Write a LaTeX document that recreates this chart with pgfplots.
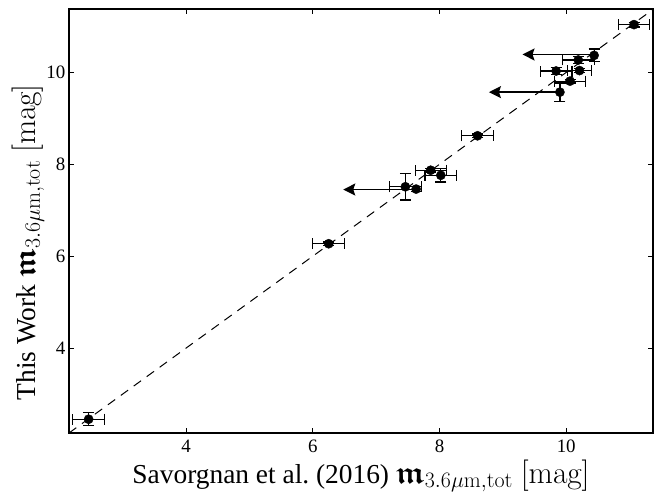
\RequirePackage{fix-cm}
\documentclass[border=0pt]{standalone}
\usepackage{amsmath,amsfonts,bm}
\usepackage[no-math]{fontspec}
\setmainfont{Liberation Serif}
\usepackage{pgfplots}
\usepackage{pgfplotstable}
\pgfplotsset{compat=1.18}
\usetikzlibrary{arrows.meta}

% Total 3.6 micron magnitudes: literature value (x) against this work (y)
\pgfplotstableread{
x     y     ex     ey
11.07 11.04 0.24   0.05
10.19 10.27 0.25   0.07
9.84  10.03 0.25   0.07
10.21 10.04 0.19   0.05
10.06 9.81  0.245  0.04
8.60  8.62  0.25   0.04
7.86  7.87  0.245  0.04
8.02  7.76  0.25   0.145
7.46  7.51  0.25   0.29
6.25  6.27  0.25   0.04
2.46  2.45  0.25   0.145
}\measured

% Galaxies whose literature magnitude is only an upper limit
\pgfplotstableread{
x     y     ey
10.44 10.37 0.14
9.90  9.57  0.20
7.63  7.46  0.05
}\limits

% magnitude symbol with its units, set in the math fonts
\newcommand{\magsym}{{\fontsize{31.5}{31.5}\selectfont$\bm{\mathfrak{m}}_{3.6\mu\mathrm{m,tot}}\ \mathrm{[mag]}$}}

\begin{document}
\begin{tikzpicture}
\path[use as bounding box] (-69bp,-62bp) rectangle (585bp,433bp);
\begin{axis}[
  scale only axis,
  width=584bp, height=424bp,
  xmin=2.15, xmax=11.37,
  ymin=2.15, ymax=11.38,
  xtick={4,6,8,10}, ytick={4,6,8,10},
  tick align=inside,
  major tick length=5bp,
  axis line style={line width=1.1bp},
  every tick/.style={black, line width=0.8bp},
  /pgf/number format/assume math mode=true,
  tick label style={font=\fontsize{19}{19}\selectfont},
  xticklabel style={inner sep=0pt, anchor=north, yshift=-7bp},
  yticklabel style={inner sep=0pt, anchor=east, xshift=-3.5bp},
  label style={font=\fontsize{27.5}{27.5}\selectfont},
  xlabel={Savorgnan et al.\ (2016) \magsym},
  ylabel={This Work \magsym},
  xlabel style={at={(axis description cs:0.5,-0.118)}, anchor=base},
  ylabel style={at={(axis description cs:-0.058,0.45)}, anchor=base},
  clip=false,
]
% one-to-one relation
\addplot[black, line width=1bp, dash pattern=on 9bp off 7bp]
  coordinates {(2.15,2.15) (11.37,11.37)};

% upper limits
\addplot[black, line width=1.5bp, -{Stealth[length=12bp, width=12bp, inset=2bp]}]
  coordinates {(10.44,10.39) (9.31,10.39)};
\addplot[black, line width=1.5bp, -{Stealth[length=12bp, width=12bp, inset=2bp]}]
  coordinates {(9.90,9.57) (8.78,9.57)};
\addplot[black, line width=1.5bp, -{Stealth[length=12bp, width=12bp, inset=2bp]}]
  coordinates {(7.63,7.45) (6.48,7.45)};

\addplot[only marks, mark=*, mark size=4.6bp, black,
  error bars/.cd, y dir=both, y explicit,
  error bar style={line width=1.2bp, black},
  error mark options={line width=1.2bp, black, mark size=5.5bp, rotate=90}]
  table[x=x, y=y, y error=ey] {\limits};

\addplot[only marks, mark=*, mark size=4.6bp, black,
  error bars/.cd, x dir=both, x explicit, y dir=both, y explicit,
  error bar style={line width=1.2bp, black},
  error mark options={line width=1.2bp, black, mark size=5.5bp, rotate=90}]
  table[x=x, y=y, x error=ex, y error=ey] {\measured};
\end{axis}
\end{tikzpicture}
\end{document}
